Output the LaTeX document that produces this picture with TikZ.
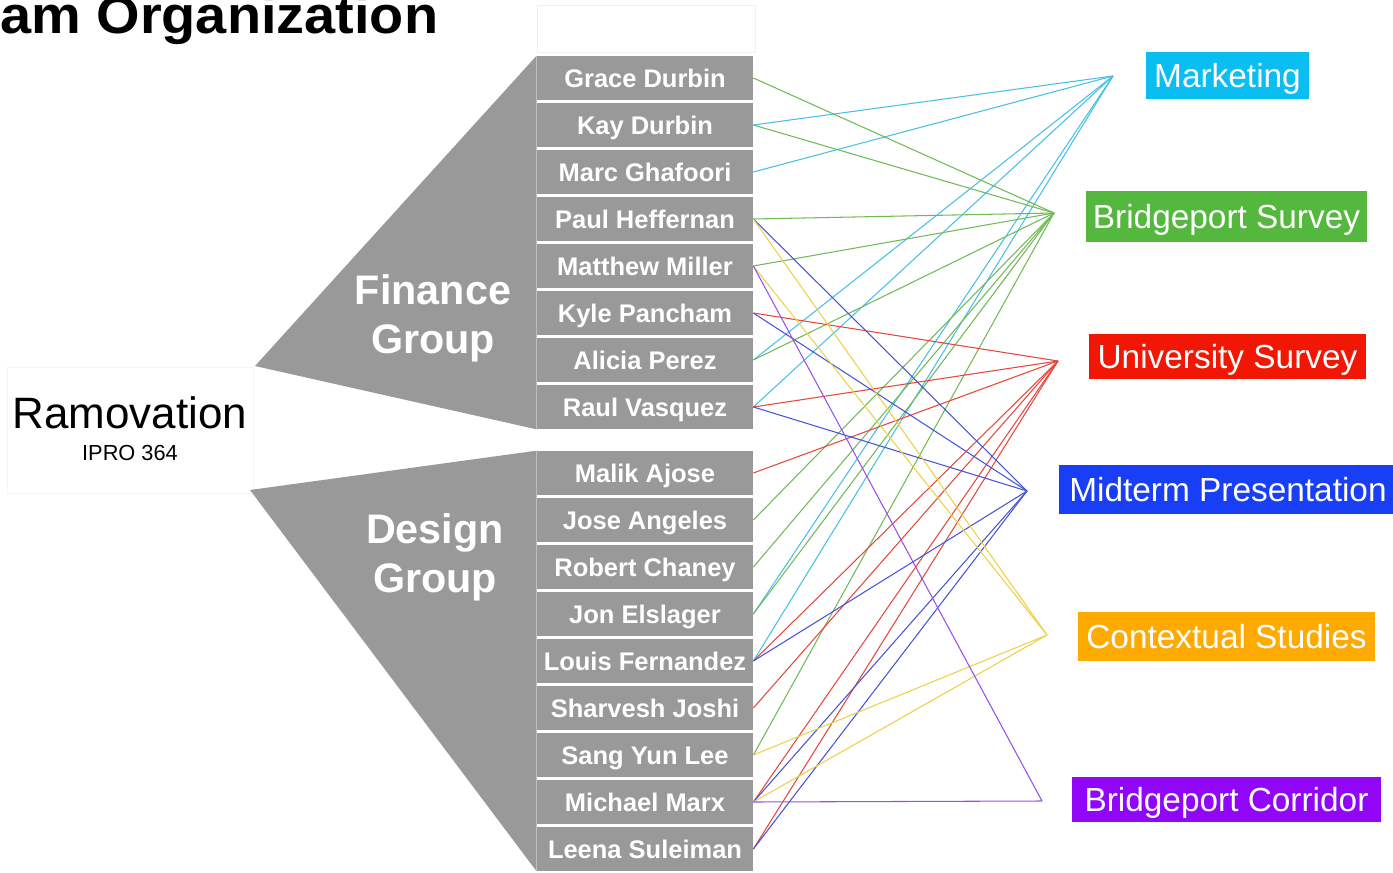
\documentclass[tikz,border=0pt]{standalone}
\usepackage{fontspec}
\setmainfont{Liberation Sans}

\definecolor{boxGray}{RGB}{153,153,153}
\definecolor{mktFill}{RGB}{10,190,242}
\definecolor{bpsFill}{RGB}{84,184,62}
\definecolor{uniFill}{RGB}{242,22,4}
\definecolor{midFill}{RGB}{24,62,246}
\definecolor{ctxFill}{RGB}{255,170,0}
\definecolor{corFill}{RGB}{146,6,248}
\definecolor{mktLine}{RGB}{70,192,228}
\definecolor{bpsLine}{RGB}{112,186,86}
\definecolor{uniLine}{RGB}{228,72,62}
\definecolor{midLine}{RGB}{70,84,214}
\definecolor{ctxLine}{RGB}{236,208,72}
\definecolor{corLine}{RGB}{152,78,232}

\tikzset{
	personBox/.style={rectangle, fill=boxGray, text=white, inner sep=0pt, minimum width=43.2mm, minimum height=8.8mm, text height=10.4pt, text depth=0pt, font=\fontsize{14.5}{17}\selectfont\bfseries},
	taskBox/.style={rectangle, text=white, inner sep=0pt, text height=13.6pt, text depth=0pt, font=\fontsize{19}{23}\selectfont},
	groupLabel/.style={text=white, align=center, font=\fontsize{23.5}{28}\selectfont\bfseries},
	link/.style={line width=0.6pt}
}

\begin{document}
\begin{tikzpicture}[x=0.2mm, y=-0.2mm]
	\useasboundingbox (0,0) rectangle (1393,873);

	\node[anchor=base west, inner sep=0pt, xscale=1.06, transform shape, font=\fontsize{30}{36}\selectfont\bfseries](titleText) at (0,34){am Organization};

	\node[rectangle, draw=gray!8, minimum width=49.2mm, minimum height=25.2mm](ramovationBox) at (130,430){};
	\node[font=\fontsize{25}{30}\selectfont](ramovationLabel) at (130,413){Ramovation};
	\node[font=\fontsize{12.4}{15}\selectfont](iproLabel) at (130,453){IPRO 364};

	\node[rectangle, draw=gray!12, minimum width=43.6mm, minimum height=9.4mm](topBox) at (646,28.5){};

	% finance group
	\node[personBox](graceBox) at (645,78){Grace Durbin};
	\node[personBox](kayBox) at (645,125){Kay Durbin};
	\node[personBox](marcBox) at (645,172){Marc Ghafoori};
	\node[personBox](paulBox) at (645,219){Paul Heffernan};
	\node[personBox](matthewBox) at (645,266){Matthew Miller};
	\node[personBox](kyleBox) at (645,313){Kyle Pancham};
	\node[personBox](aliciaBox) at (645,360){Alicia Perez};
	\node[personBox](raulBox) at (645,407){Raul Vasquez};
	\fill[boxGray] (graceBox.north west) -- (255,366) -- (raulBox.south west) -- cycle;
	\node[groupLabel](financeLabel) at (433,318){Finance\\Group};

	% design group
	\node[personBox](malikBox) at (645,473){Malik Ajose};
	\node[personBox](joseBox) at (645,520){Jose Angeles};
	\node[personBox](robertBox) at (645,567){Robert Chaney};
	\node[personBox](jonBox) at (645,614){Jon Elslager};
	\node[personBox](louisBox) at (645,661){Louis Fernandez};
	\node[personBox](sharveshBox) at (645,708){Sharvesh Joshi};
	\node[personBox](sangBox) at (645,755){Sang Yun Lee};
	\node[personBox](michaelBox) at (645,802){Michael Marx};
	\node[personBox](leenaBox) at (645,849){Leena Suleiman};
	\fill[boxGray] (malikBox.north west) -- (250,490) -- (leenaBox.south west) -- cycle;
	\node[groupLabel](designLabel) at (435,557){Design\\Group};

	% task boxes
	\node[taskBox, fill=mktFill, minimum width=32.6mm, minimum height=9.4mm](marketingBox) at (1227.5,75.5){Marketing};
	\node[taskBox, fill=bpsFill, minimum width=56.2mm, minimum height=10.2mm](bpSurveyBox) at (1226.5,216.5){Bridgeport Survey};
	\node[taskBox, fill=uniFill, minimum width=55.4mm, minimum height=9mm](uniSurveyBox) at (1227.5,356.5){University Survey};
	\node[taskBox, fill=midFill, minimum width=67.6mm, minimum height=9.8mm](midtermBox) at (1228,489.5){Midterm Presentation};
	\node[taskBox, fill=ctxFill, minimum width=59.4mm, minimum height=9.8mm](contextBox) at (1226.5,636.5){Contextual Studies};
	\node[taskBox, fill=corFill, minimum width=61.8mm, minimum height=9mm](corridorBox) at (1226.5,799.5){Bridgeport Corridor};

	\coordinate (marketingHub) at (1113,76);
	\coordinate (bpSurveyHub) at (1054,213);
	\coordinate (uniSurveyHub) at (1058,361);
	\coordinate (midtermHub) at (1027,491);
	\coordinate (contextHub) at (1047,635);
	\coordinate (corridorHub) at (1042,801);

	% marketing links
	\draw[link, mktLine] (kayBox.east) -- (marketingHub);
	\draw[link, mktLine] (marcBox.east) -- (marketingHub);
	\draw[link, mktLine] (aliciaBox.east) -- (marketingHub);
	\draw[link, mktLine] (raulBox.east) -- (marketingHub);
	\draw[link, mktLine] (jonBox.east) -- (marketingHub);
	\draw[link, mktLine] (louisBox.east) -- (marketingHub);

	% bridgeport survey links
	\draw[link, bpsLine] (graceBox.east) -- (bpSurveyHub);
	\draw[link, bpsLine] (kayBox.east) -- (bpSurveyHub);
	\draw[link, bpsLine] (paulBox.east) -- (bpSurveyHub);
	\draw[link, bpsLine] (matthewBox.east) -- (bpSurveyHub);
	\draw[link, bpsLine] (aliciaBox.east) -- (bpSurveyHub);
	\draw[link, bpsLine] (joseBox.east) -- (bpSurveyHub);
	\draw[link, bpsLine] (robertBox.east) -- (bpSurveyHub);
	\draw[link, bpsLine] (jonBox.east) -- (bpSurveyHub);
	\draw[link, bpsLine] (sangBox.east) -- (bpSurveyHub);

	% university survey links
	\draw[link, uniLine] (kyleBox.east) -- (uniSurveyHub);
	\draw[link, uniLine] (raulBox.east) -- (uniSurveyHub);
	\draw[link, uniLine] (malikBox.east) -- (uniSurveyHub);
	\draw[link, uniLine] (louisBox.east) -- (uniSurveyHub);
	\draw[link, uniLine] (sharveshBox.east) -- (uniSurveyHub);
	\draw[link, uniLine] (michaelBox.east) -- (uniSurveyHub);
	\draw[link, uniLine] (leenaBox.east) -- (uniSurveyHub);

	% midterm links
	\draw[link, midLine] (paulBox.east) -- (midtermHub);
	\draw[link, midLine] (kyleBox.east) -- (midtermHub);
	\draw[link, midLine] (raulBox.east) -- (midtermHub);
	\draw[link, midLine] (louisBox.east) -- (midtermHub);
	\draw[link, midLine] (michaelBox.east) -- (midtermHub);
	\draw[link, midLine] (leenaBox.east) -- (midtermHub);

	% contextual studies links
	\draw[link, ctxLine] (paulBox.east) -- (contextHub);
	\draw[link, ctxLine] (matthewBox.east) -- (contextHub);
	\draw[link, ctxLine] (sangBox.east) -- (contextHub);
	\draw[link, ctxLine] (michaelBox.east) -- (contextHub);

	% corridor links
	\draw[link, corLine] (matthewBox.east) -- (corridorHub);
	\draw[link, corLine] (michaelBox.east) -- (corridorHub);
\end{tikzpicture}
\end{document}
